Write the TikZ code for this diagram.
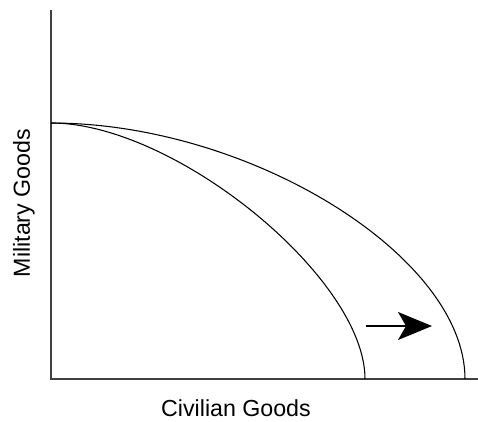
\documentclass[tikz,border=0pt]{standalone}
\usepackage{fontspec}
\setmainfont{Liberation Sans}
\usetikzlibrary{arrows.meta}

\begin{document}
\begin{tikzpicture}[
  x=0.025cm, y=-0.025cm,
  axis/.style={draw=black!75,line width=1.3pt},
  ppf/.style={draw=black,line width=0.75pt},
  shiftarrow/.style={draw=black,line width=0.9pt,
    -{Stealth[length=0.85cm,width=0.7cm,inset=0.2cm]}},
  axislabel/.style={font=\fontsize{16.5}{19}\selectfont,inner sep=0pt},
]
  \useasboundingbox (0,0) rectangle (478,421);
  % axes
  \coordinate (top) at (51,10);
  \coordinate (origin) at (51,379);
  \coordinate (right) at (478,379);
  \draw[axis] (top) -- (origin) -- (right);
  % production possibility frontiers
  \coordinate (start) at (51,123);
  \coordinate (end1) at (365,379);
  \coordinate (end2) at (465,379);
  \draw[ppf] (start) .. controls (175,123) and (365,278) .. (end1);
  \draw[ppf] (start) .. controls (250,123) and (465,256) .. (end2);
  % outward shift
  \coordinate (a1) at (366,326);
  \coordinate (a2) at (432,326);
  \draw[shiftarrow] (a1) -- (a2);
  % labels
  \node[axislabel] (xlab) at (236,408) {Civilian Goods};
  \node[axislabel,rotate=90] (ylab) at (24,203) {Military Goods};
\end{tikzpicture}
\end{document}
